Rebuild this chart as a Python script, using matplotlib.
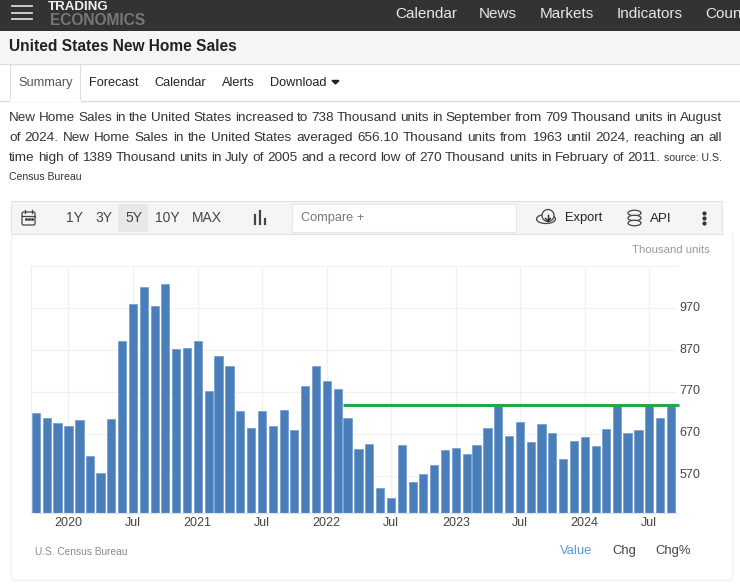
import numpy as np
import pandas as pd
import matplotlib
matplotlib.use("Agg")
import matplotlib.pyplot as plt
import matplotlib.dates as mdates
from matplotlib.patches import Rectangle, FancyBboxPatch, Ellipse, Circle
from matplotlib.transforms import ScaledTranslation

plt.rcParams["font.family"] = ["Liberation Sans", "DejaVu Sans"]

# data, Oct 2019 - Sep 2024
sales = [720, 709, 697, 688, 704, 617, 576, 705, 893, 980, 1020, 976, 1028, 873, 876,
         893, 772, 857, 833, 724, 685, 724, 688, 728, 680, 784, 832, 796, 778, 709,
         635, 647, 541, 517, 643, 555, 575, 595, 631, 637, 623, 643, 685, 738, 665,
         699, 651, 693, 671, 609, 653, 663, 641, 681, 738, 671, 679, 738, 707, 738]
dates = pd.date_range("2019-10-01", periods=len(sales), freq="MS")
last_value = 738
y_ticks = [570, 670, 770, 870, 970]
x_tick_dates = ["2020-01-01", "2020-07-01", "2021-01-01", "2021-07-01", "2022-01-01",
                "2022-07-01", "2023-01-01", "2023-07-01", "2024-01-01", "2024-07-01"]
x_tick_labels = ["2020", "Jul", "2021", "Jul", "2022", "Jul", "2023", "Jul", "2024", "Jul"]
nav_items = [("Calendar", 395), ("News", 479), ("Markets", 540), ("Indicators", 617), ("Coun", 705)]
tab_items = [("Summary", 18), ("Forecast", 89), ("Calendar", 154), ("Alerts", 222), ("Download", 270)]
range_items = [("1Y", 66), ("3Y", 95), ("5Y", 125), ("10Y", 155), ("MAX", 192)]
body_lines = [
    "New Home Sales in the United States increased to 738 Thousand units in September from 709 Thousand units in August",
    "of 2024. New Home Sales in the United States averaged 656.10 Thousand units from 1963 until 2024, reaching an all",
    "time high of 1389 Thousand units in July of 2005 and a record low of 270 Thousand units in February of 2011.",
]

W, H = 740, 587
fig = plt.figure(figsize=(W / 100, H / 100), dpi=100, facecolor="white")

# page layer in pixel coordinates
page = fig.add_axes([0, 0, 1, 1])
page.set_xlim(0, W)
page.set_ylim(H, 0)
page.axis("off")


def box(x, y, w, h, fc, ec="none", lw=0.8):
    page.add_patch(Rectangle((x, y), w, h, facecolor=fc, edgecolor=ec, linewidth=lw))


def label(x, y, s, size=10, color="#333333", **kw):
    # va center sits about a pixel high for this font
    return page.text(x, y + 1, s, fontsize=size, color=color, va="center", **kw)


def justified(line, x0, x1, y, size=10, color="#333333"):
    renderer = fig.canvas.get_renderer()
    words = line.split(" ")
    items = [label(x0, y, w, size, color) for w in words]
    widths = [t.get_window_extent(renderer).width for t in items]
    gap = (x1 - x0 - sum(widths)) / (len(words) - 1)
    x = x0
    for t, w in zip(items, widths):
        t.set_x(x)
        x += w + gap


# top bar
box(0, 0, W, 31, "#333333")
for y in [6, 13, 19]:
    page.plot([12, 32], [y, y], color="#d8d8d8", lw=1.3)
label(48, 6.5, "TRADING", 9.6, "#f0f0f0", fontweight="bold")
label(50, 19.5, "ECONOMICS", 11.2, "#777777", fontweight="bold")
for name, x in nav_items:
    label(x, 12.5, name, 11, "#e8e8e8")

# title band
box(0, 31, W, 32, "#f5f5f5")
page.plot([0, W], [63.5, 63.5], color="#dddddd", lw=1)
label(9, 45.5, "United States New Home Sales", 11.2, "#222222", fontweight="bold")

# tabs
page.plot([0, W], [100.5, 100.5], color="#dddddd", lw=1)
box(10, 64, 70, 37, "white", "#dddddd", 0.8)
page.plot([10.5, 79.5], [100.5, 100.5], color="white", lw=1.5)
for i, (name, x) in enumerate(tab_items):
    label(x, 82, name, 9.2, "#555555" if i == 0 else "#222222")
page.fill([332, 339, 335.5], [80.5, 80.5, 84], color="#222222")

# summary text
for i, line in enumerate(body_lines[:2]):
    justified(line, 9, 722, 117 + 20 * i, 9.7)
justified(body_lines[2], 9, 660, 157, 9.7)
label(722, 157, "source: U.S.", 7.6, ha="right")
label(9, 176, "Census Bureau", 7.6)

# toolbar
box(10.5, 200.5, 711, 33.5, "#f5f5f5", "#e2e2e2")
box(118, 204, 30, 28, "#e8e8e8")
box(292, 204, 224, 28, "white", "#e6e6e6")
for name, x in range_items:
    label(x, 217.5, name, 10, "#444444")
label(301, 217, "Compare +", 9.2, "#777777")
label(565, 217.5, "Export", 9.3, "#222222")
label(650, 217.5, "API", 9.6, "#222222")

# toolbar icons
page.add_patch(FancyBboxPatch((22, 212), 13, 13, boxstyle="round,pad=0,rounding_size=1.5",
                              fc="none", ec="#444444", lw=0.9))
page.plot([22, 35], [215.5, 215.5], color="#444444", lw=0.9)
page.plot([25, 25], [210, 212.5], color="#444444", lw=0.9)
page.plot([32, 32], [210, 212.5], color="#444444", lw=0.9)
page.plot([25.5, 28.5, 31.5], [219, 219, 219], ls="none", marker="s", ms=1, color="#444444")
for x, top in [(255, 215), (260, 211), (265, 219)]:
    page.plot([x, x], [top, 224], color="#444444", lw=1.6)
page.add_patch(Ellipse((546, 219), 19, 9, fc="none", ec="#444444", lw=0.9))
page.add_patch(Circle((548, 215.5), 6, fc="#f5f5f5", ec="#444444", lw=0.9))
page.plot([548, 548], [215, 221], color="#222222", lw=1)
page.plot([545.5, 548, 550.5], [218.5, 221, 218.5], color="#222222", lw=1)
for y in [212, 217, 222]:
    page.add_patch(Ellipse((634.5, y + 1), 13, 5.5, fc="#f5f5f5", ec="#444444", lw=0.9))
page.plot([704, 704, 704], [213, 218, 223], ls="none", marker="o", ms=2, color="#333333")

label(710, 249, "Thousand units", 8.2, "#999999", ha="right")

# chart card
page.plot([10.5, 10.5, 731.5, 731.5], [234, 579.5, 579.5, 234], color="#f2f2f2", lw=1)
label(35, 551, "U.S. Census Bureau", 7.3, "#8a8a8a")
label(560, 550, "Value", 9.4, "#5b9bd5")
label(612, 550, "Chg", 9.4, "#444444")
label(655, 550, "Chg%", 9.4, "#444444")

# chart
left, right, top, bottom = 31, 677, 266, 512.6
ax = fig.add_axes([left / W, 1 - bottom / H, (right - left) / W, (bottom - top) / H])
ax.patch.set_alpha(0)
px_per_day = 0.3532
bar_w = 8.3 / px_per_day
ax.bar(dates, sales, width=bar_w, color="#4a7ebb", edgecolor="#6f9bd0", linewidth=0.5, zorder=2)
ax.set_xlim(dates[0] - pd.Timedelta(days=14), dates[-1] + pd.Timedelta(days=17))
ax.set_ylim(482, 1071)
line_start = mdates.date2num(dates[29]) - bar_w / 2
ax.plot([line_start, ax.get_xlim()[1] + 5], [last_value, last_value], color="#22a84a", lw=2.2,
        zorder=3, clip_on=False, solid_capstyle="butt")

ax.yaxis.tick_right()
ax.set_yticks(y_ticks)
ax.set_xticks(pd.to_datetime(x_tick_dates))
ax.set_xticklabels(x_tick_labels)
ax.tick_params(axis="both", length=0, labelsize=9, labelcolor="#444444")
ax.tick_params(axis="x", pad=3)
ax.tick_params(axis="y", pad=2)
# value labels sit a little above their grid lines
for tick_label in ax.get_yticklabels():
    tick_label.set_transform(tick_label.get_transform() + ScaledTranslation(0, 1.5 / 72, fig.dpi_scale_trans))
ax.grid(True, color="#f1f1f1", lw=0.9, zorder=0)
ax.set_axisbelow(True)
ax.spines["right"].set_visible(False)
ax.spines["top"].set_color("#f1f1f1")
ax.spines["left"].set_color("#eeeeee")
ax.spines["bottom"].set_color("#d8e4f2")

fig.savefig("out.png", dpi=100, facecolor="white")
